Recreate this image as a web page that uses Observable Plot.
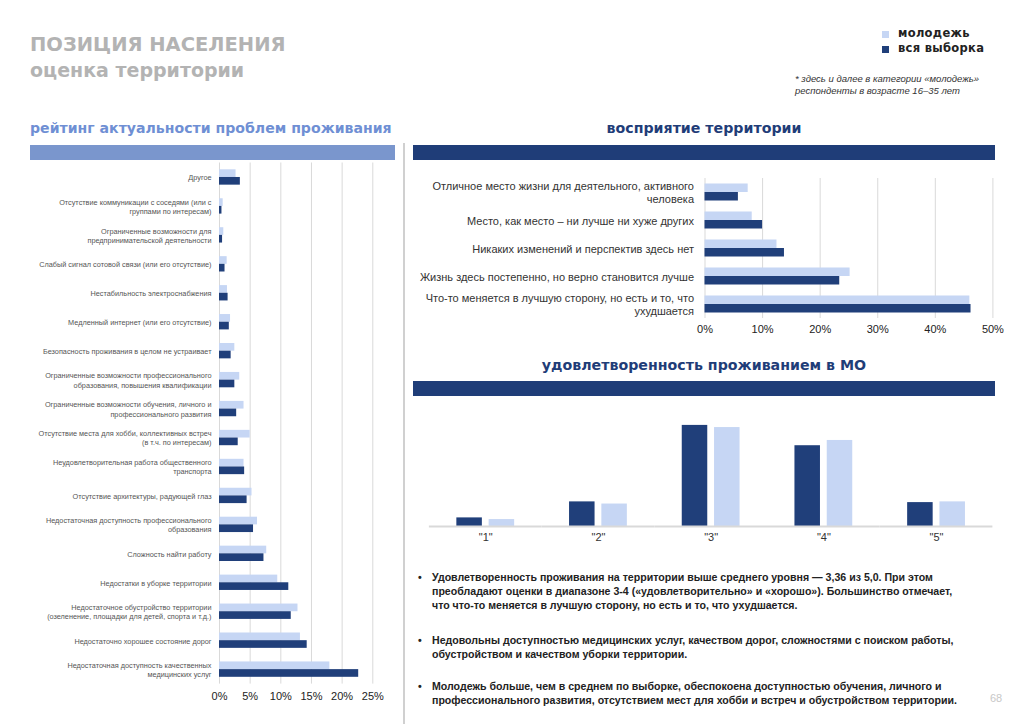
<!DOCTYPE html>
<html><head><meta charset="utf-8">
<script src="https://cdn.jsdelivr.net/npm/d3@7"></script>
<script src="https://cdn.jsdelivr.net/npm/@observablehq/plot@0.6"></script>
<style>
html,body{margin:0;padding:0;background:#fff;}
#page{position:relative;width:1024px;height:724px;overflow:hidden;font-family:"Liberation Sans",Arial,sans-serif;}
.abs{position:absolute;white-space:nowrap;}
.heavy{font-family:"DejaVu Sans",sans-serif;font-weight:bold;}
.bullet{position:absolute;left:418px;font-family:"Liberation Sans",Arial,sans-serif;font-weight:bold;font-size:10.6px;line-height:14px;color:#222;white-space:nowrap;}
.bullet span.dot{position:absolute;left:0;top:0;}
.bullet div.t{margin-left:14px;}
</style></head>
<body><div id="page">
<div class="abs heavy" style="left:30px;top:33px;font-size:19.5px;color:#b3b3b3;">ПОЗИЦИЯ НАСЕЛЕНИЯ</div>
<div class="abs heavy" style="left:30px;top:59px;font-size:19px;color:#b3b3b3;">оценка территории</div>

<div class="abs" style="left:882px;top:31px;width:7px;height:7px;background:#c6d6f4;"></div>
<div class="abs" style="left:882px;top:46px;width:7px;height:7px;background:#203f7a;"></div>
<div class="abs heavy" style="left:898px;top:26px;font-size:11.5px;letter-spacing:0.3px;color:#222;">молодежь</div>
<div class="abs heavy" style="left:898px;top:41px;font-size:11.5px;letter-spacing:0.3px;color:#222;">вся выборка</div>
<div class="abs" style="left:795px;top:73px;font-size:9.5px;line-height:12px;font-style:italic;color:#333;">* здесь и далее в категории «молодежь»<br>респонденты в возрасте 16–35 лет</div>

<div class="abs heavy" style="left:30px;top:120px;font-size:14.1px;color:#6f8fd4;">рейтинг актуальности проблем проживания</div>
<div class="abs" style="left:30px;top:145px;width:365px;height:15px;background:#7a96cd;"></div>
<div class="abs" style="left:403px;top:143px;width:2px;height:581px;background:#d0d0d0;"></div>

<div class="abs heavy" style="left:413px;width:582px;text-align:center;top:120px;font-size:14.2px;color:#1f3d78;">восприятие территории</div>
<div class="abs" style="left:413px;top:145px;width:582px;height:15px;background:#1f3d78;"></div>

<div class="abs heavy" style="left:413px;width:582px;text-align:center;top:357px;font-size:14.2px;color:#1f3d78;">удовлетворенность проживанием в МО</div>
<div class="abs" style="left:413px;top:381px;width:582px;height:15px;background:#1f3d78;"></div>

<div id="left" class="abs" style="left:0px;top:155px;"></div>
<div id="right" class="abs" style="left:410px;top:170px;"></div>
<div id="sat" class="abs" style="left:410px;top:400px;"></div>

<div class="bullet" style="top:570px;"><span class="dot">•</span><div class="t">Удовлетворенность проживания на территории выше среднего уровня — 3,36 из 5,0. При этом<br>преобладают оценки в диапазоне 3-4 («удовлетворительно» и «хорошо»). Большинство отмечает,<br>что что-то меняется в лучшую сторону, но есть и то, что ухудшается.</div></div>
<div class="bullet" style="top:633px;"><span class="dot">•</span><div class="t">Недовольны доступностью медицинских услуг, качеством дорог, сложностями с поиском работы,<br>обустройством и качеством уборки территории.</div></div>
<div class="bullet" style="top:679px;"><span class="dot">•</span><div class="t">Молодежь больше, чем в среднем по выборке, обеспокоена доступностью обучения, личного и<br>профессионального развития, отсутствием мест для хобби и встреч и обустройством территории.</div></div>
<div class="abs" style="left:990px;top:692px;font-size:11px;color:#c8c8c8;">68</div>
</div>
<script>
// ---------- data ----------
const seriesNames = ["молодежь", "вся выборка"];
const colorLight = "#c6d6f4", colorDark = "#203f7a";

const problems = [
  "Другое",
  "Отсутствие коммуникации с соседями (или с\nгруппами по интересам)",
  "Ограниченные возможности для\nпредпринимательской деятельности",
  "Слабый сигнал сотовой связи (или его отсутствие)",
  "Нестабильность электроснабжения",
  "Медленный интернет (или его отсутствие)",
  "Безопасность проживания в целом не устраивает",
  "Ограниченные возможности профессионального\nобразования, повышения квалификации",
  "Ограниченные возможности обучения, личного и\nпрофессионального развития",
  "Отсутствие места для хобби, коллективных встреч\n(в т.ч. по интересам)",
  "Неудовлетворительная работа общественного\nтранспорта",
  "Отсутствие архитектуры, радующей глаз",
  "Недостаточная доступность профессионального\nобразования",
  "Сложность найти работу",
  "Недостатки в уборке территории",
  "Недостаточное обустройство территории\n(озеленение, площадки для детей, спорта и т.д.)",
  "Недостаточно хорошее состояние дорог",
  "Недостаточная доступность качественных\nмедицинских услуг"
];
const problemsYouth = [2.7, 0.6, 0.7, 1.25, 1.3, 1.8, 2.5, 3.3, 4.0, 5.0, 4.0, 5.3, 6.2, 7.7, 9.5, 12.8, 13.2, 18.0];
const problemsTotal = [3.4, 0.4, 0.5, 0.9, 1.4, 1.6, 1.9, 2.5, 2.8, 3.05, 4.1, 4.5, 5.55, 7.25, 11.3, 11.7, 14.3, 22.7];
const problemTicks = [0, 5, 10, 15, 20, 25];

const perception = [
  "Отличное место жизни для деятельного, активного\nчеловека",
  "Место, как место – ни лучше ни хуже других",
  "Никаких изменений и перспектив здесь нет",
  "Жизнь здесь постепенно, но верно становится лучше",
  "Что-то меняется в лучшую сторону, но есть и то, что\nухудшается"
];
const perceptionYouth = [7.5, 8.2, 12.5, 25.2, 46.0];
const perceptionTotal = [5.8, 10.0, 13.8, 23.4, 46.2];
const perceptionTicks = [0, 10, 20, 30, 40, 50];

const scores = ['"1"', '"2"', '"3"', '"4"', '"5"'];
const scoresTotal = [3.6, 10.3, 42.3, 33.8, 10.0];
const scoresYouth = [2.9, 9.4, 41.4, 36.0, 10.3];

// ---------- tables ----------
const problemRows = problems.flatMap((p, i) => [
  {cat: p, series: seriesNames[0], value: problemsYouth[i]},
  {cat: p, series: seriesNames[1], value: problemsTotal[i]}
]);
const perceptionRows = perception.flatMap((p, i) => [
  {cat: p, series: seriesNames[0], value: perceptionYouth[i]},
  {cat: p, series: seriesNames[1], value: perceptionTotal[i]}
]);
const scoreRows = scores.flatMap((s, i) => [
  {score: s, series: seriesNames[1], value: scoresTotal[i]},
  {score: s, series: seriesNames[0], value: scoresYouth[i]}
]);

const baseStyle = {fontFamily: "'Liberation Sans', Arial, sans-serif", fontSize: "11px", color: "#333", background: "transparent", overflow: "visible"};
const colorScale = {domain: seriesNames, range: [colorLight, colorDark]};

// ---------- left: problems ----------
{
  const band = 28.95;
  const leftPlot = Plot.plot({
    width: 400, height: 556,
    marginLeft: 219, marginRight: 27.7, marginTop: 7.5, marginBottom: 27.4,
    style: baseStyle,
    x: {domain: [0, 25]},
    y: {domain: problems, padding: 0, round: false},
    color: colorScale,
    marks: [
      Plot.gridX(problemTicks, {stroke: "#d9d9d9", strokeOpacity: 1, strokeWidth: 1}),
      Plot.barX(problemRows.filter(d => d.series === seriesNames[0]), {x: "value", y: "cat", fill: "series", insetTop: 6.8, insetBottom: band / 2}),
      Plot.barX(problemRows.filter(d => d.series === seriesNames[1]), {x: "value", y: "cat", fill: "series", insetTop: band / 2, insetBottom: 6.8}),
      Plot.axisY({tickSize: 0, tickPadding: 8, fontSize: 7.3, fill: "#555", label: null, lineHeight: 1.25, lineAnchor: "middle"}),
      Plot.axisX({ticks: problemTicks, tickSize: 0, tickPadding: 8, tickFormat: d => d + "%", label: null, fontSize: 11, fill: "#222"})
    ]
  });
  document.getElementById("left").appendChild(leftPlot);
}

// ---------- right: perception ----------
{
  const band = 28;
  const rightPlot = Plot.plot({
    width: 600, height: 170,
    marginLeft: 294.5, marginRight: 17.6, marginTop: 8, marginBottom: 22,
    style: baseStyle,
    x: {domain: [0, 50]},
    y: {domain: perception, padding: 0, round: false},
    color: colorScale,
    marks: [
      Plot.gridX(perceptionTicks, {stroke: "#d9d9d9", strokeOpacity: 1, strokeWidth: 1}),
      Plot.barX(perceptionRows.filter(d => d.series === seriesNames[0]), {x: "value", y: "cat", fill: "series", insetTop: 5.5, insetBottom: band / 2}),
      Plot.barX(perceptionRows.filter(d => d.series === seriesNames[1]), {x: "value", y: "cat", fill: "series", insetTop: band / 2, insetBottom: 5.5}),
      Plot.axisY({tickSize: 0, tickPadding: 11, fontSize: 11, fill: "#333", label: null, lineHeight: 1.15, lineAnchor: "middle"}),
      Plot.axisX({ticks: perceptionTicks, tickSize: 0, tickPadding: 7, tickFormat: d => d + "%", label: null, fontSize: 11, fill: "#222"})
    ]
  });
  document.getElementById("right").appendChild(rightPlot);
}

// ---------- bottom: satisfaction ----------
{
  const satPlot = Plot.plot({
    width: 600, height: 150,
    marginLeft: 18.9, marginRight: 17.6, marginTop: 6.5, marginBottom: 24,
    style: baseStyle,
    fx: {domain: scores, padding: 0, round: false, label: null, tickSize: 0, tickPadding: 7, axis: "bottom"},
    x: {domain: [seriesNames[1], seriesNames[0]], paddingInner: 0.21, paddingOuter: 0.85, round: false, axis: null},
    y: {domain: [0, 50], axis: null},
    color: colorScale,
    marks: [
      Plot.barY(scoreRows, {fx: "score", x: "series", y: "value", fill: "series"}),
      Plot.ruleY([0], {stroke: "#d9d9d9", strokeWidth: 2})
    ]
  });
  document.getElementById("sat").appendChild(satPlot);
}
</script>
</body></html>
